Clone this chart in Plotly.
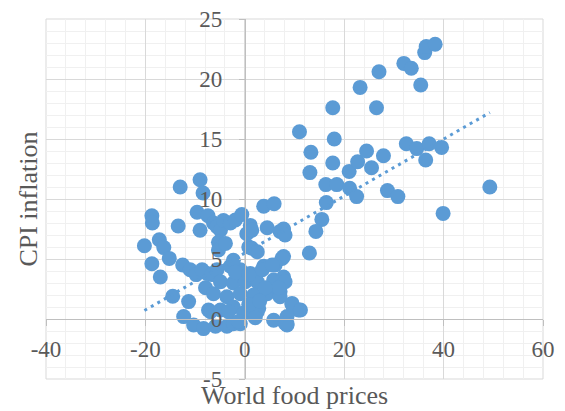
import plotly.graph_objects as go

# World food prices (x) vs CPI inflation (y)
food_prices = [
    17.7, 23.2, 26.5, 27.0, 32.0, 33.5, 35.4, 36.2, 36.5, 38.3,
    11.0, 18.0, 13.3, 13.1, 17.7, 16.3, 18.5, 16.4, 15.5, 21.0,
    22.7, 24.5, 25.5, 27.9, 21.1, 22.5, 28.7, 30.8, 32.5, 34.6,
    36.4, 37.1, 39.6, 49.3, 39.9, 14.3, 13.0, 10.8, 9.5, 8.5,
    -13.0, -9.0, -8.4, -9.6, 3.8, 5.9, -18.7, -18.6, -13.4, -7.4,
    -9.0, -6.3, -5.6, -4.9, -4.3, -2.9, -1.9, -0.6, 1.1, 0.4,
    1.4, 4.5, 7.1, 7.8, 8.1, -5.3, -5.3, -3.9, 0.8, 1.4,
    2.5, 7.8, 7.5, -20.2, -17.2, -16.3, -18.7, -17.0, -15.2, -12.5,
    -11.0, -9.8, -14.5, -11.3, -12.3, -7.9, -7.6, -8.6, -6.6, -5.6,
    -2.9, -0.9, 1.1, 3.8, 6.1, -4.9, -2.3, 0.1, 2.5, 5.8,
    7.8, 8.1, -6.3, -3.6, -0.9, 1.8, 4.5, 7.1, 7.1, -7.3,
    -6.9, -4.9, -2.3, -0.2, 2.5, 5.8, 8.5, -10.3, -8.3, -5.9,
    -3.6, -2.3, 8.5, -2.3, -1.9, 0.8, 3.5, 5.5, 6.8, 4.1,
    -3.3, 2.8, 9.5, 11.2, 8.1, 2.1, -0.9, 0.8, -1.2, 3.0,
]
cpi_inflation = [
    17.6, 19.3, 17.6, 20.6, 21.3, 20.9, 19.5, 22.2, 22.7, 22.9,
    15.6, 15.0, 13.9, 12.2, 13.0, 11.2, 11.2, 9.7, 8.3, 12.3,
    13.1, 14.0, 12.6, 13.6, 10.9, 10.2, 10.7, 10.2, 14.6, 14.2,
    13.25, 14.6, 14.3, 11.0, 8.8, 7.3, 5.5, 0.75, 1.3, -0.4,
    11.0, 11.6, 10.5, 8.9, 9.4, 9.6, 8.6, 8.0, 7.75, 8.6,
    7.4, 8.0, 7.7, 7.4, 8.2, 8.0, 8.25, 8.7, 7.8, 7.1,
    7.4, 7.6, 7.3, 7.5, 7.0, 6.4, 5.75, 6.3, 6.0, 5.9,
    5.6, 5.2, 5.05, 6.1, 6.6, 5.95, 4.6, 3.5, 5.05, 4.5,
    4.1, 3.7, 1.9, 1.45, 0.2, 2.6, 3.8, 4.1, 3.7, 4.1,
    4.4, 4.1, 3.8, 4.4, 4.5, 3.1, 3.0, 3.1, 3.1, 3.25,
    3.5, 3.1, 2.1, 1.85, 2.1, 2.0, 2.1, 2.3, 1.85, 0.75,
    0.6, 0.75, 1.0, 0.5, 0.6, -0.1, 0.2, -0.5, -0.8, -0.6,
    -0.6, -0.4, -0.5, 4.9, 3.9, 3.7, 4.1, 4.5, 2.6, 2.6,
    0.6, 0.9, 1.2, 0.75, -0.35, 0.1, -0.4, 1.2, -0.2, 1.5,
]

# Linear trendline (y = intercept + slope * x)
trend_intercept = 5.50
trend_slope = 0.2374

x_ticks = [-40, -20, 0, 20, 40, 60]
y_ticks = [-5, 0, 5, 10, 15, 20, 25]

x_min, x_max = -40, 60
y_min, y_max = -5, 25

BLUE = "#5B9BD5"
TXT = "#595959"
FONT = "Liberation Serif, Times New Roman, serif"

trend_x = [min(food_prices), max(food_prices)]
trend_y = [trend_intercept + trend_slope * v for v in trend_x]

fig = go.Figure()
fig.add_trace(go.Scatter(
    x=food_prices, y=cpi_inflation, mode="markers",
    marker=dict(size=15, color=BLUE, line=dict(width=0)),
    showlegend=False, hoverinfo="x+y",
))
fig.add_trace(go.Scatter(
    x=trend_x, y=trend_y, mode="lines",
    line=dict(color=BLUE, width=3, dash="3px,4.5px"),
    showlegend=False, hoverinfo="skip",
))

x_zero_frac = (0 - x_min) / (x_max - x_min)
y_zero_frac = (0 - y_min) / (y_max - y_min)

fig.update_layout(
    width=557, height=403,
    margin=dict(l=38, r=22, t=11, b=32, autoexpand=False),
    paper_bgcolor="white", plot_bgcolor="white",
    font=dict(family=FONT, color=TXT, size=23),
    xaxis=dict(
        range=[x_min, x_max], tickvals=x_ticks, ticktext=[str(v) for v in x_ticks],
        anchor="free", position=y_zero_frac, automargin=False,
        showline=True, linecolor="#BFBFBF", linewidth=1,
        ticks="outside", ticklen=6, tickcolor="#BFBFBF",
        showgrid=True, gridcolor="#D9D9D9", gridwidth=1,
        minor=dict(dtick=4, tick0=x_min, showgrid=True, gridcolor="#F0F0F0", gridwidth=1),
        zeroline=False, ticklabelstandoff=3, ticklabeloverflow="allow",
        tickfont=dict(family=FONT, color=TXT, size=23),
    ),
    yaxis=dict(
        range=[y_min, y_max], tickvals=y_ticks, ticktext=[str(v) for v in y_ticks],
        anchor="free", position=x_zero_frac, automargin=False,
        showline=True, linecolor="#BFBFBF", linewidth=1,
        ticks="outside", ticklen=6, tickcolor="#BFBFBF",
        showgrid=True, gridcolor="#D9D9D9", gridwidth=1,
        minor=dict(dtick=1, tick0=y_min, showgrid=True, gridcolor="#F0F0F0", gridwidth=1),
        zeroline=False, ticklabelstandoff=12, ticklabeloverflow="allow",
        tickfont=dict(family=FONT, color=TXT, size=23),
    ),
    shapes=[dict(type="rect", xref="paper", yref="paper", x0=0, x1=1, y0=0, y1=1,
                 line=dict(color="#D9D9D9", width=1), layer="below")],
    annotations=[
        dict(text="World food prices", xref="paper", yref="paper", x=0.5, y=-0.046,
             xanchor="center", yanchor="middle", showarrow=False,
             font=dict(family=FONT, color=TXT, size=26)),
        dict(text="CPI inflation", xref="paper", yref="paper", x=-0.037, y=0.5,
             xanchor="center", yanchor="middle", showarrow=False, textangle=-90,
             font=dict(family=FONT, color=TXT, size=26)),
    ],
)

fig.write_html("out.html")
